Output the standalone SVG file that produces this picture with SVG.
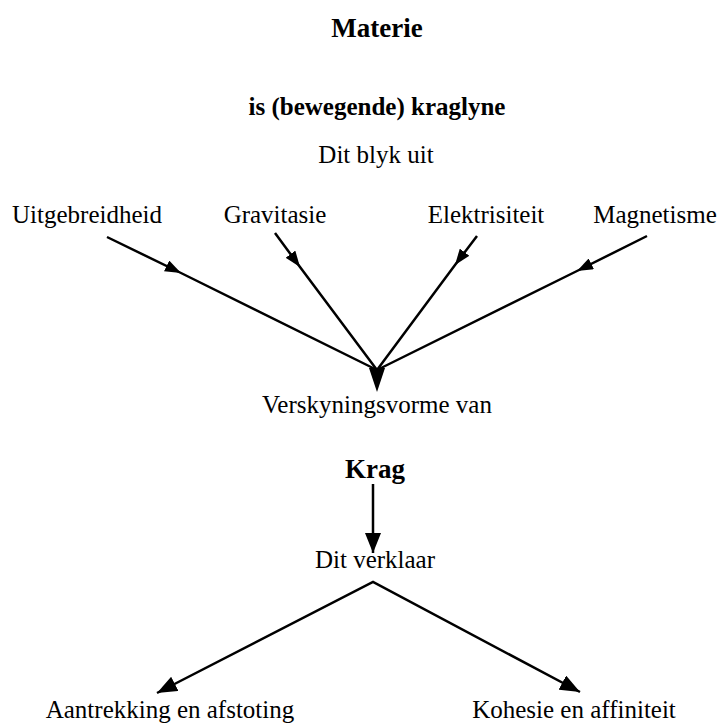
<svg xmlns="http://www.w3.org/2000/svg" width="723" height="726" viewBox="0 0 723 726">
<style>
text{font-family:"Liberation Serif","Times New Roman",serif;fill:#000;text-anchor:middle}
.r{font-size:25px}
.b{font-size:27px;font-weight:bold}
.bs{font-size:25px;font-weight:bold}
.ln{fill:none;stroke:#000;stroke-width:2.5;stroke-linejoin:miter}
</style>
<defs>
<marker id="mid" viewBox="0 0 16 12" refX="16" refY="6" markerWidth="16" markerHeight="12" markerUnits="userSpaceOnUse" orient="auto"><path d="M0,0 L16,6 L0,12 z" fill="#000"/></marker>
<marker id="big" viewBox="0 0 20 16" refX="20" refY="8" markerWidth="20" markerHeight="16" markerUnits="userSpaceOnUse" orient="auto-start-reverse"><path d="M0,0 L20,8 L0,16 z" fill="#000"/></marker>
</defs>
<rect width="723" height="726" fill="#fff"/>
<g id="materie"><text class="b" x="377" y="37">Materie</text></g>
<g id="kraglyne"><text class="bs" x="377" y="115">is (bewegende) kraglyne</text></g>
<g id="blyk"><text class="r" x="376" y="163">Dit blyk uit</text></g>
<g id="uitgebreidheid"><text class="r" x="87" y="223">Uitgebreidheid</text></g>
<g id="gravitasie"><text class="r" x="275" y="223">Gravitasie</text></g>
<g id="elektrisiteit"><text class="r" x="486" y="223">Elektrisiteit</text></g>
<g id="magnetisme"><text class="r" x="655" y="223">Magnetisme</text></g>
<g id="verskyning"><text class="r" x="377" y="413">Verskyningsvorme van</text></g>
<g id="krag"><text class="b" x="375" y="478">Krag</text></g>
<g id="verklaar"><text class="r" x="375" y="568">Dit verklaar</text></g>
<g id="aantrekking"><text class="r" x="170" y="718">Aantrekking en afstoting</text></g>
<g id="kohesie"><text class="r" x="574" y="718">Kohesie en affiniteit</text></g>
<g id="connectors">
<path class="ln" d="M107,237 L181,273 L377,370" marker-mid="url(#mid)"/>
<path class="ln" d="M275,233 L300,267 L377,370" marker-mid="url(#mid)"/>
<path class="ln" d="M477,236 L455,265 L377,370" marker-mid="url(#mid)"/>
<path class="ln" d="M647,236 L577,271 L377,370" marker-mid="url(#mid)"/>
<polygon points="369,368 385,368 377,392" fill="#000"/>
<path class="ln" d="M373,484 L373,553" marker-end="url(#big)"/>
<path class="ln" d="M157,693 L373,582 L580,692" marker-start="url(#big)" marker-end="url(#big)"/>
</g>
</svg>
